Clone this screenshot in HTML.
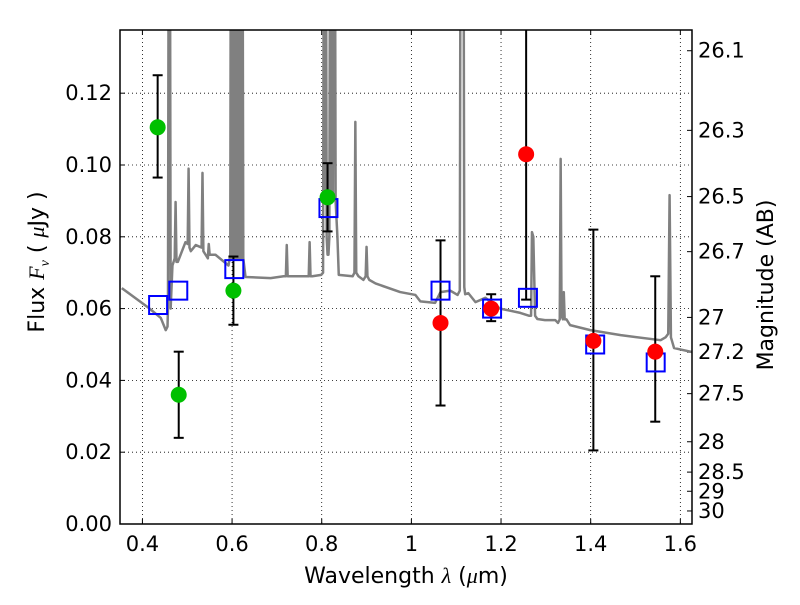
<!DOCTYPE html>
<html><head><meta charset="utf-8"><style>
body{margin:0;background:#fff}
svg text{font-family:"DejaVu Sans","Liberation Sans",sans-serif;fill:#000}
</style></head><body>
<svg id="c" width="800" height="600" xmlns="http://www.w3.org/2000/svg"></svg>
<script>
const specLam=[0.354,0.414,0.441,0.452,0.456,0.457,0.459,0.461,0.463,0.467,0.472,0.474,0.476,0.479,0.496,0.501,0.503,0.505,0.508,0.519,0.532,0.534,0.536,0.541,0.546,0.548,0.550,0.563,0.592,0.596,0.5975,0.599,0.6005,0.602,0.6035,0.605,0.6065,0.608,0.6095,0.611,0.6125,0.614,0.6155,0.617,0.6185,0.620,0.6215,0.623,0.625,0.630,0.686,0.715,0.720,0.722,0.724,0.728,0.766,0.771,0.773,0.775,0.779,0.799,0.803,0.805,0.807,0.809,0.811,0.813,0.815,0.817,0.819,0.821,0.823,0.825,0.827,0.829,0.831,0.835,0.838,0.869,0.873,0.875,0.877,0.882,0.893,0.898,0.900,0.902,0.906,0.920,0.975,1.009,1.020,1.053,1.065,1.087,1.103,1.108,1.110,1.112,1.114,1.116,1.118,1.120,1.127,1.143,1.165,1.198,1.243,1.263,1.267,1.269,1.272,1.276,1.281,1.298,1.321,1.327,1.331,1.333,1.335,1.338,1.340,1.342,1.346,1.354,1.399,1.467,1.556,1.567,1.573,1.576,1.579,1.586,1.626];
const specFlux=[0.0657,0.0602,0.0574,0.054,0.055,0.06,0.2,0.2,0.06,0.072,0.074,0.0897,0.073,0.073,0.0785,0.078,0.099,0.077,0.076,0.0777,0.077,0.0978,0.076,0.075,0.074,0.078,0.075,0.075,0.072,0.075,0.2,0.074,0.2,0.074,0.2,0.074,0.2,0.074,0.2,0.074,0.2,0.074,0.2,0.074,0.2,0.074,0.2,0.2,0.074,0.0688,0.0685,0.069,0.069,0.0777,0.069,0.069,0.069,0.069,0.0785,0.069,0.069,0.0694,0.07,0.2,0.09,0.2,0.08,0.075,0.075,0.08,0.2,0.09,0.2,0.09,0.2,0.2,0.09,0.08,0.0694,0.069,0.07,0.112,0.07,0.069,0.068,0.069,0.0772,0.069,0.068,0.067,0.0646,0.0638,0.062,0.0616,0.0646,0.065,0.0638,0.065,0.2,0.2,0.2,0.2,0.066,0.064,0.0643,0.0618,0.063,0.060,0.0588,0.058,0.058,0.0813,0.0800,0.058,0.0571,0.0568,0.0568,0.056,0.057,0.1017,0.058,0.057,0.0646,0.057,0.057,0.0554,0.054,0.0526,0.0512,0.052,0.053,0.0916,0.052,0.049,0.0479];
const obsLam=[0.434,0.481,0.603,0.813,1.065,1.178,1.256,1.406,1.544];
const obsFlux=[0.1105,0.036,0.065,0.091,0.056,0.060,0.103,0.051,0.048];
const obsLo=[0.0965,0.024,0.0555,0.0815,0.033,0.0565,0.0625,0.0205,0.0285];
const obsHi=[0.125,0.048,0.0745,0.1005,0.079,0.064,0.2,0.082,0.069];
const obsColor=['#00c000','#00c000','#00c000','#00c000','#ff0000','#ff0000','#ff0000','#ff0000','#ff0000'];
const modLam=[0.435,0.48,0.605,0.815,1.065,1.18,1.26,1.41,1.545];
const modFlux=[0.061,0.065,0.071,0.088,0.065,0.060,0.063,0.050,0.045];
const xTicks=[0.4,0.6,0.8,1,1.2,1.4,1.6];
const xTickLabels=['0.4','0.6','0.8','1','1.2','1.4','1.6'];
const yTicks=[0,0.02,0.04,0.06,0.08,0.1,0.12];
const yTickLabels=['0.00','0.02','0.04','0.06','0.08','0.10','0.12'];
const magTicks=[26.1,26.3,26.5,26.7,27,27.2,27.5,28,28.5,29,30];
const magLabels=['26.1','26.3','26.5','26.7','27','27.2','27.5','28','28.5','29','30'];

const L=120,R=692,T=30,B=524,x0=0.35,x1=1.626,y0=0,y1=0.1376;
const sx=v=>L+(v-x0)/(x1-x0)*(R-L);
const sy=v=>B-(v-y0)/(y1-y0)*(B-T);
const svg=document.getElementById('c');
const NS='http://www.w3.org/2000/svg';
function mk(t,a,p){const e=document.createElementNS(NS,t);for(const k in a)e.setAttribute(k,a[k]);(p||svg).appendChild(e);return e;}
const defs=mk('defs',{});const cp=mk('clipPath',{id:'clip'},defs);mk('rect',{x:L,y:T,width:R-L,height:B-T},cp);
xTicks.forEach((v,i)=>{
 const g=mk('line',{x1:sx(v),x2:sx(v),y1:T,y2:B,stroke:'#000','stroke-width':0.8,'stroke-dasharray':'1,3'});
 
 mk('line',{x1:sx(v),x2:sx(v),y1:B,y2:B-5,stroke:'#000'});mk('line',{x1:sx(v),x2:sx(v),y1:T,y2:T+5,stroke:'#000'});
 const t=mk('text',{x:sx(v),y:B+27,'text-anchor':'middle','font-size':21});t.textContent=xTickLabels[i];
 
});
yTicks.forEach((v,i)=>{
 if(v>0){const g=mk('line',{x1:L,x2:R,y1:sy(v),y2:sy(v),stroke:'#000','stroke-width':0.8,'stroke-dasharray':'1,3'});
 }
 mk('line',{x1:L,x2:L+5,y1:sy(v),y2:sy(v),stroke:'#000'});
 const t=mk('text',{x:L-8,y:sy(v)+7,'text-anchor':'end','font-size':21});t.textContent=yTickLabels[i];
 
});
magTicks.forEach((m,i)=>{
 const f=Math.pow(10,(23.9-m)/2.5);const y=sy(f);
 mk('line',{x1:R,x2:R-5,y1:y,y2:y,stroke:'#000'});
 const t=mk('text',{x:R+6,y:y+7,'font-size':21});t.textContent=magLabels[i];
 
});
const sp=mk('polyline',{points:specLam.map((l,i)=>sx(l)+','+sy(specFlux[i])).join(' '),fill:'none',stroke:'#808080','stroke-width':2.5,'clip-path':'url(#clip)','stroke-linejoin':'round'});

const gp=mk('g',{'clip-path':'url(#clip)'});
obsLam.forEach((l,i)=>{
 const x=sx(l);
 mk('line',{x1:x,x2:x,y1:sy(obsLo[i]),y2:sy(obsHi[i]),stroke:'#000','stroke-width':2},gp);
 mk('line',{x1:x-5,x2:x+5,y1:sy(obsLo[i]),y2:sy(obsLo[i]),stroke:'#000','stroke-width':2},gp);
 mk('line',{x1:x-5,x2:x+5,y1:sy(obsHi[i]),y2:sy(obsHi[i]),stroke:'#000','stroke-width':2},gp);
});
modLam.forEach((l,i)=>{
 const r=mk('rect',{x:sx(l)-9,y:sy(modFlux[i])-9,width:18,height:18,fill:'none',stroke:'#0000ff','stroke-width':2},gp);
 
});
obsLam.forEach((l,i)=>{
 const c=mk('circle',{cx:sx(l),cy:sy(obsFlux[i]),r:8,fill:obsColor[i]},gp);
 
});
const fr=mk('rect',{x:L,y:T,width:R-L,height:B-T,fill:'none',stroke:'#000','stroke-width':1.5});

const xt=mk('text',{x:406,y:583,'text-anchor':'middle','font-size':22});
xt.innerHTML='Wavelength  <tspan font-style="italic" font-family="Liberation Serif">λ</tspan> (<tspan font-style="italic" font-family="Liberation Serif">μ</tspan>m)';

const yt=mk('text',{x:0,y:0,'text-anchor':'middle','font-size':22,transform:'translate(44,262) rotate(-90)'});
yt.innerHTML='Flux  <tspan font-style="italic" font-family="Liberation Serif">F</tspan><tspan font-style="italic" font-family="Liberation Serif" font-size="14" dy="5">ν</tspan><tspan dy="-5">  (  </tspan><tspan font-style="italic" font-family="Liberation Serif">μ</tspan>Jy )';

const rt=mk('text',{x:0,y:0,'text-anchor':'middle','font-size':22,transform:'translate(773,285) rotate(-90)'});
rt.textContent='Magnitude (AB)';

</script>
</body></html>
